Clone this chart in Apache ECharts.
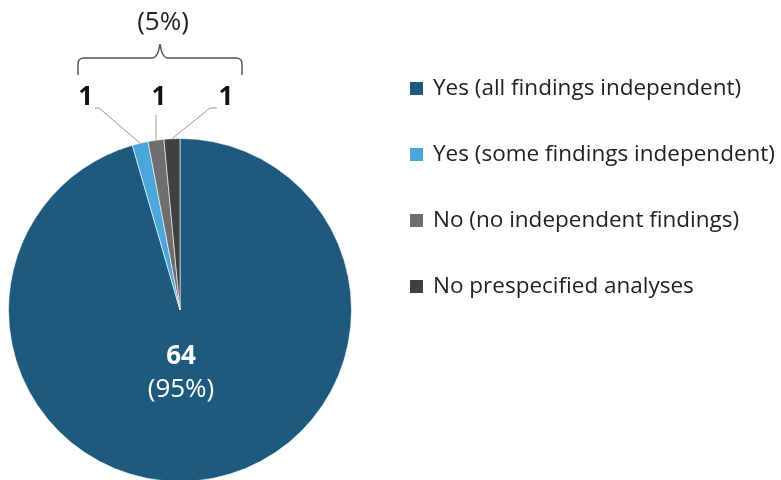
<!DOCTYPE html>
<html><head><meta charset="utf-8">
<script src="https://cdn.jsdelivr.net/npm/echarts@6/dist/echarts.min.js"></script>
<style>html,body{margin:0;padding:0;background:#fff}#c{width:781px;height:480px}</style>
</head><body><div id="c"></div>
<script>
const categories = ['Yes (all findings independent)', 'Yes (some findings independent)', 'No (no independent findings)', 'No prespecified analyses'];
const values = [64, 1, 1, 1];
const colors = ['#1E5A7E', '#4BA6DC', '#6E6E6E', '#404040'];
const bigPctText = '(95%)';
const smallPctText = '(5%)';

const FONT = '"Open Sans", "DejaVu Sans", sans-serif';
const chart = echarts.init(document.getElementById('c'), null, {renderer: 'canvas'});

const smallLabelPos = {
  1: {x: 93, y: 98, align: 'right', elbow: [99, 108], end: [95, 108]},
  2: {x: 159, y: 98, align: 'center', elbow: [156, 115], end: [156, 115]},
  3: {x: 226, y: 98, align: 'center', elbow: [210, 108], end: [217, 108]}
};

const braceStyle = {fill: 'none', stroke: '#555', lineWidth: 1.5};
chart.setOption({
  animation: false,
  color: colors,
  legend: {
    orient: 'vertical',
    left: 408,
    top: 77,
    padding: 0,
    itemWidth: 15,
    itemHeight: 15,
    itemGap: 43,
    icon: 'rect',
    textStyle: {fontFamily: FONT, fontSize: 22.5, color: '#222', padding: [0, 0, 0, 4]},
    data: categories
  },
  graphic: [
    {type: 'text', x: 163, y: 23, style: {text: smallPctText, font: '26px ' + FONT, fill: '#222', textAlign: 'center', textVerticalAlign: 'middle'}},
    {type: 'line', shape: {x1: 78, y1: 75, x2: 78, y2: 64}, style: braceStyle},
    {type: 'bezierCurve', shape: {x1: 78, y1: 64, cpx1: 78, cpy1: 58, x2: 84, y2: 58}, style: braceStyle},
    {type: 'line', shape: {x1: 84, y1: 58, x2: 152, y2: 58}, style: braceStyle},
    {type: 'bezierCurve', shape: {x1: 152, y1: 58, cpx1: 158, cpy1: 58, x2: 160, y2: 44}, style: braceStyle},
    {type: 'bezierCurve', shape: {x1: 160, y1: 44, cpx1: 162, cpy1: 58, x2: 168, y2: 58}, style: braceStyle},
    {type: 'line', shape: {x1: 168, y1: 58, x2: 236, y2: 58}, style: braceStyle},
    {type: 'bezierCurve', shape: {x1: 236, y1: 58, cpx1: 242, cpy1: 58, x2: 242, y2: 64}, style: braceStyle},
    {type: 'line', shape: {x1: 242, y1: 64, x2: 242, y2: 75}, style: braceStyle}
  ],
  series: [{
    type: 'pie',
    center: [180, 310],
    radius: 171.5,
    startAngle: 90,
    clockwise: true,
    avoidLabelOverlap: false,
    itemStyle: {borderColor: '#ffffff', borderWidth: 0.6},
    label: {
      show: true,
      position: 'outside',
      formatter: '{c}',
      fontFamily: FONT,
      fontSize: 26,
      fontWeight: 'bold',
      color: '#111'
    },
    labelLine: {show: true, length: 20, length2: 5, lineStyle: {color: '#999', width: 1}},
    labelLayout: function (p) {
      if (p.dataIndex === 0) {
        return {x: 181, y: 373, align: 'center', verticalAlign: 'middle'};
      }
      const s = smallLabelPos[p.dataIndex];
      const start = p.labelLinePoints ? p.labelLinePoints[0] : null;
      const r = {x: s.x, y: s.y, align: s.align, verticalAlign: 'middle'};
      if (start) r.labelLinePoints = [start, s.elbow, s.end];
      return r;
    },
    data: categories.map((n, i) => {
      const d = {name: n, value: values[i]};
      if (i === 0) {
        d.label = {
          position: 'inside',
          formatter: '{a|{c}}\n{b|' + bigPctText + '}',
          rich: {
            a: {fontFamily: FONT, fontSize: 26, fontWeight: 'bold', color: '#fff', lineHeight: 33},
            b: {fontFamily: FONT, fontSize: 26, fontWeight: 'normal', color: '#fff', lineHeight: 33}
          }
        };
        d.labelLine = {show: false};
      }
      return d;
    })
  }]
});
</script></body></html>
